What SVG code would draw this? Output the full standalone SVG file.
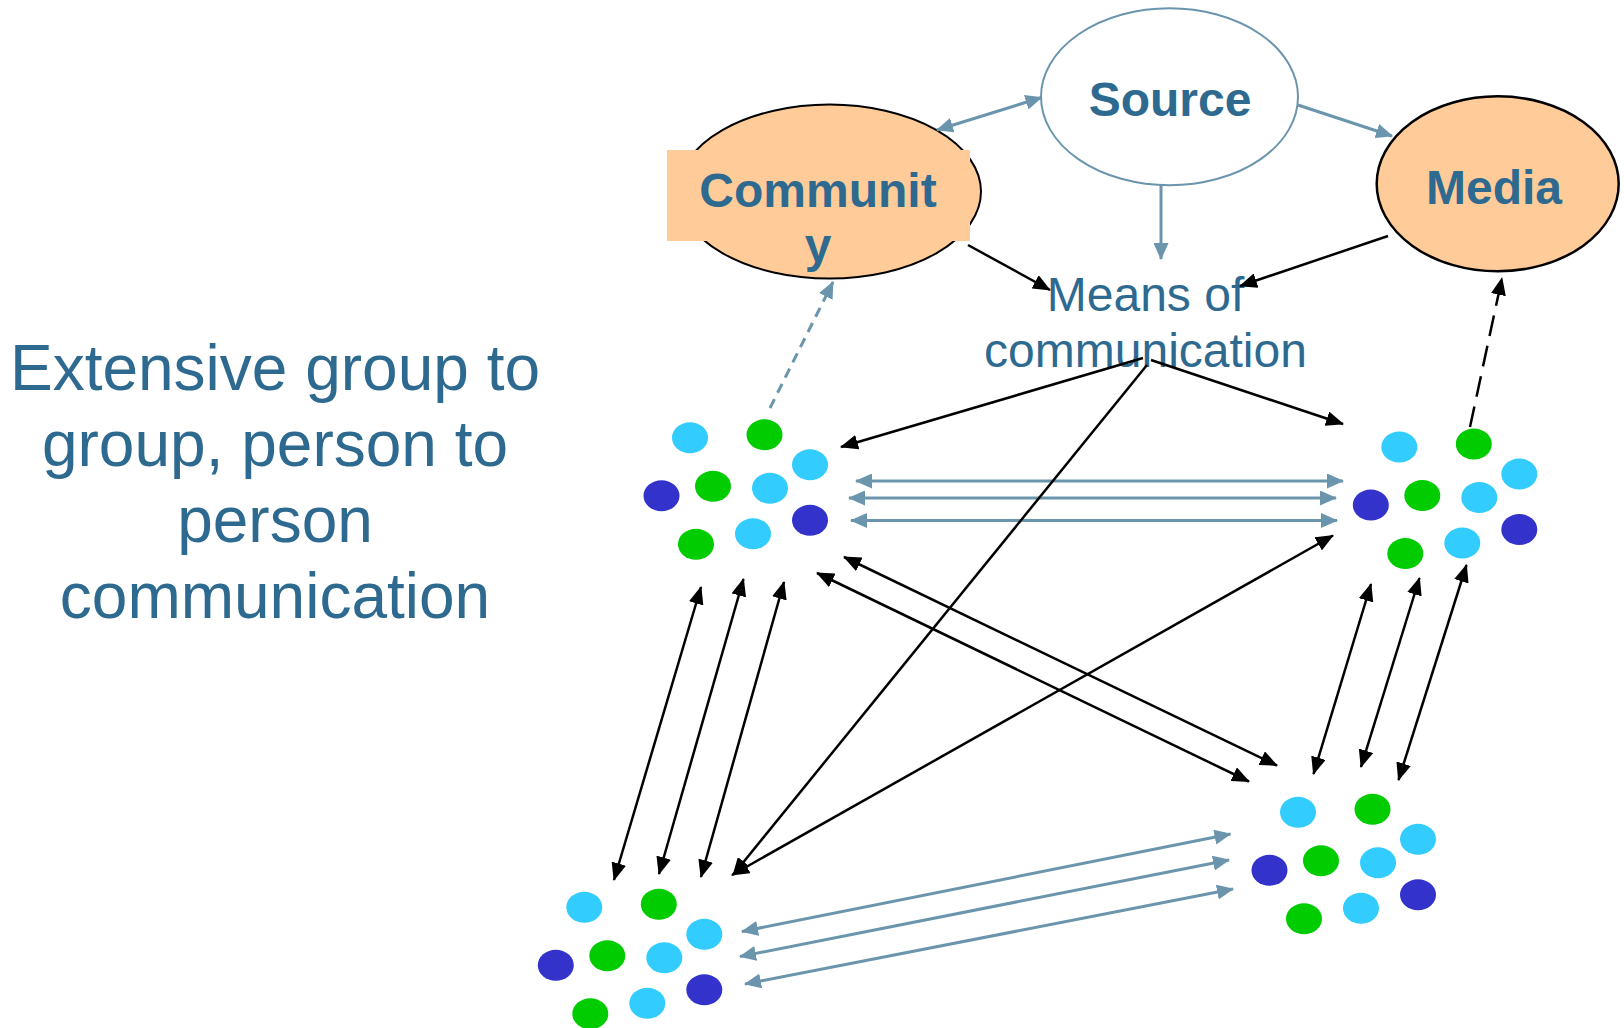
<svg xmlns="http://www.w3.org/2000/svg" xmlns:xlink="http://www.w3.org/1999/xlink" width="1624" height="1028" viewBox="0 0 1624 1028">
  <style>
    .label { font-family: "Liberation Sans", Arial, sans-serif; fill: #2E6A90; text-anchor: middle; }
    .bold { font-weight: bold; font-size: 48px; }
    .big { font-size: 64px; }
    .mid { font-size: 48px; }
    .peach { fill: #FFCC99; }
    .blk { stroke: #000; stroke-width: 2.5; fill: none; }
    .steel { stroke: #6A95AC; stroke-width: 3; fill: none; }
    .lb { fill: #33CCFF; }
    .gr { fill: #00CC00; }
    .bl { fill: #3333CC; }
  </style>
  <defs>
    <marker id="ah-black" markerUnits="userSpaceOnUse" markerWidth="18" markerHeight="15" viewBox="0 0 18 15" refX="17" refY="7.5" orient="auto-start-reverse">
      <path d="M0,0 L18,7.5 L0,15 z" fill="#000"/>
    </marker>
    <marker id="ah-steel" markerUnits="userSpaceOnUse" markerWidth="17" markerHeight="15" viewBox="0 0 17 15" refX="16" refY="7.5" orient="auto-start-reverse">
      <path d="M0,0 L17,7.5 L0,15 z" fill="#6A95AC"/>
    </marker>
    <!-- one group of people: nine dots -->
    <g id="dots">
      <ellipse class="lb" cx="0" cy="0" rx="18" ry="15.5"/>
      <ellipse class="gr" cx="74.5" cy="-3" rx="18" ry="15.5"/>
      <ellipse class="lb" cx="120" cy="27" rx="18" ry="15.5"/>
      <ellipse class="bl" cx="-28.5" cy="58" rx="18" ry="15.5"/>
      <ellipse class="gr" cx="23" cy="48.5" rx="18" ry="15.5"/>
      <ellipse class="lb" cx="80" cy="50.5" rx="18" ry="15.5"/>
      <ellipse class="bl" cx="120" cy="82.5" rx="18" ry="15.5"/>
      <ellipse class="gr" cx="6" cy="106.5" rx="18" ry="15.5"/>
      <ellipse class="lb" cx="63" cy="96" rx="18" ry="15.5"/>
    </g>
  </defs>

  <rect x="0" y="0" width="1624" height="1028" fill="#fff"/>

  <!-- caption on the left -->
  <g id="caption">
    <text class="label big" x="275" y="390">Extensive group to</text>
    <text class="label big" x="275" y="466">group, person to</text>
    <text class="label big" x="275" y="542">person</text>
    <text class="label big" x="275" y="618">communication</text>
  </g>

  <g id="source">
    <ellipse cx="1169.5" cy="96.8" rx="128.5" ry="88.5" fill="#fff" stroke="#6A95AC" stroke-width="2"/>
    <text class="label bold" x="1170" y="116">Source</text>
  </g>

  <g id="community">
    <ellipse class="peach" cx="829.5" cy="191.6" rx="151.5" ry="87" stroke="#000" stroke-width="2"/>
    <rect class="peach" x="667" y="150" width="303" height="91"/>
    <text class="label bold" x="818" y="207">Communit</text>
    <text class="label bold" x="818" y="262">y</text>
  </g>

  <g id="media">
    <ellipse class="peach" cx="1497.7" cy="183.8" rx="121" ry="87.5" stroke="#000" stroke-width="2.5"/>
    <text class="label bold" x="1494" y="204">Media</text>
  </g>

  <g id="means">
    <text class="label mid" x="1145.5" y="311">Means of</text>
    <text class="label mid" x="1145.5" y="367">communication</text>
  </g>

  <g id="group-top-left"><use xlink:href="#dots" href="#dots" x="690" y="437.7"/></g>
  <g id="group-top-right"><use xlink:href="#dots" href="#dots" x="1399.3" y="447"/></g>
  <g id="group-bottom-left"><use xlink:href="#dots" href="#dots" x="584.3" y="907.3"/></g>
  <g id="group-bottom-right"><use xlink:href="#dots" href="#dots" x="1298" y="812.3"/></g>

  <g id="connectors">
    <!-- steel-blue links -->
    <line class="steel" x1="937" y1="130" x2="1041.5" y2="97.5" marker-start="url(#ah-steel)" marker-end="url(#ah-steel)"/>
    <line class="steel" x1="1298" y1="105" x2="1392" y2="136" marker-end="url(#ah-steel)"/>
    <line class="steel" stroke-width="2" x1="1161" y1="185" x2="1161" y2="259" marker-end="url(#ah-steel)"/>
    <line class="steel" x1="856" y1="481" x2="1343" y2="481" marker-start="url(#ah-steel)" marker-end="url(#ah-steel)"/>
    <line class="steel" x1="849" y1="498" x2="1336" y2="498" marker-start="url(#ah-steel)" marker-end="url(#ah-steel)"/>
    <line class="steel" x1="851" y1="520.5" x2="1337" y2="520.5" marker-start="url(#ah-steel)" marker-end="url(#ah-steel)"/>
    <line class="steel" x1="742" y1="931.5" x2="1230.5" y2="834" marker-start="url(#ah-steel)" marker-end="url(#ah-steel)"/>
    <line class="steel" x1="740" y1="956.5" x2="1229" y2="860" marker-start="url(#ah-steel)" marker-end="url(#ah-steel)"/>
    <line class="steel" x1="745" y1="984" x2="1233" y2="889" marker-start="url(#ah-steel)" marker-end="url(#ah-steel)"/>
    <line class="steel" stroke-width="2.5" stroke-dasharray="10 7" x1="770" y1="408" x2="833" y2="282" marker-end="url(#ah-steel)"/>

    <!-- black links -->
    <line class="blk" x1="968" y1="245" x2="1050" y2="290" marker-end="url(#ah-black)"/>
    <line class="blk" x1="1388" y1="236" x2="1240" y2="286" marker-end="url(#ah-black)"/>
    <line class="blk" x1="1143" y1="358" x2="841" y2="447" marker-end="url(#ah-black)"/>
    <line class="blk" x1="1151" y1="360" x2="1343" y2="424" marker-end="url(#ah-black)"/>
    <line class="blk" x1="1147" y1="365" x2="733" y2="875" marker-end="url(#ah-black)"/>
    <line class="blk" x1="1333" y1="535.5" x2="732" y2="875" marker-start="url(#ah-black)" marker-end="url(#ah-black)"/>
    <line class="blk" x1="701" y1="587" x2="614" y2="880" marker-start="url(#ah-black)" marker-end="url(#ah-black)"/>
    <line class="blk" x1="743.5" y1="579" x2="659" y2="874" marker-start="url(#ah-black)" marker-end="url(#ah-black)"/>
    <line class="blk" x1="784" y1="582" x2="701" y2="877" marker-start="url(#ah-black)" marker-end="url(#ah-black)"/>
    <line class="blk" x1="844" y1="557" x2="1277" y2="765.5" marker-start="url(#ah-black)" marker-end="url(#ah-black)"/>
    <line class="blk" x1="817" y1="573" x2="1249" y2="781.5" marker-start="url(#ah-black)" marker-end="url(#ah-black)"/>
    <line class="blk" x1="1371" y1="584" x2="1313.5" y2="774" marker-start="url(#ah-black)" marker-end="url(#ah-black)"/>
    <line class="blk" x1="1419.5" y1="578" x2="1361" y2="767" marker-start="url(#ah-black)" marker-end="url(#ah-black)"/>
    <line class="blk" x1="1466.5" y1="565" x2="1398.5" y2="780" marker-start="url(#ah-black)" marker-end="url(#ah-black)"/>
    <line class="blk" stroke-dasharray="21 10" x1="1470" y1="427" x2="1502" y2="278" marker-end="url(#ah-black)"/>
  </g>
</svg>
